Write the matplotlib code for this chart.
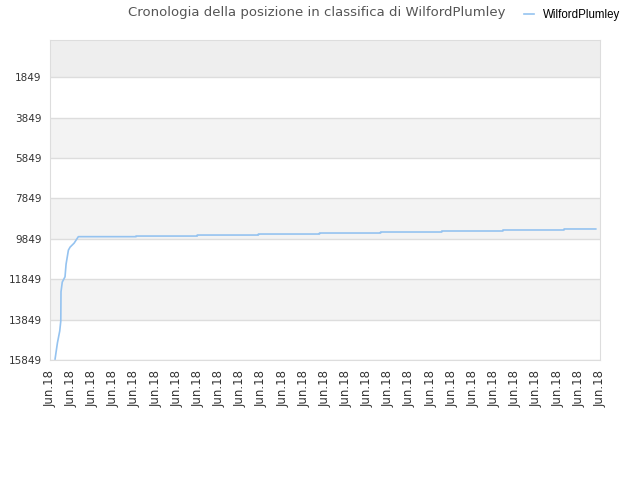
import numpy as np
import matplotlib
matplotlib.use('Agg')
import matplotlib.pyplot as plt

# climb in the first days (x in tick units, rank)
early_x = [0.24, 0.35, 0.46, 0.51, 0.52, 0.58, 0.71, 0.76, 0.87, 0.95, 1.14, 1.34]
early_rank = [15800, 15007, 14414, 13919, 12470, 11990, 11728, 11100, 10407, 10258, 10061, 9740]

# then slow steps
step_x = [1.34, 4.07, 6.96, 9.85, 12.74, 15.63, 18.52, 21.41, 24.30, 25.80]
step_rank = [9740, 9710, 9660, 9610, 9560, 9510, 9460, 9410, 9360]

ytick_vals = [1849, 3849, 5849, 7849, 9849, 11849, 13849, 15849]
xtick_labels = ['Jun.18'] * 27

# build line
sx = np.repeat(step_x, 2)[1:-1]
sy = np.repeat(step_rank, 2)
xs = np.concatenate([early_x, sx])
ys = np.concatenate([early_rank, sy])

fig = plt.figure(figsize=(6.4, 4.8), dpi=100)
ax = fig.add_axes([50 / 640, 1 - 360 / 480, 550 / 640, 320 / 480])

ax.axhspan(0, 1849, color='#eeeeee', lw=0, zorder=0)
for lo in [3849, 7849, 11849]:
    ax.axhspan(lo, lo + 2000, color='#f3f3f3', lw=0, zorder=0)
for v in ytick_vals:
    ax.axhline(v, color='#dddddd', lw=1, zorder=1)

ax.plot(xs, ys, color='#95c3f0', lw=1.2, zorder=3, label='WilfordPlumley')

ax.set_ylim(15849, 0)
ax.set_xlim(0, 26)
ax.set_yticks(ytick_vals)
ax.set_yticklabels([str(v) for v in ytick_vals], fontsize=7.5, color='#333333')
ax.set_xticks(range(27))
ax.set_xticklabels(xtick_labels, rotation=90, fontsize=8.5, color='#333333')
ax.tick_params(length=0, pad=7)
ax.tick_params(axis='y', pad=6)
for s in ax.spines.values():
    s.set_color('#dddddd')

fig.text(0.495, 0.973, 'Cronologia della posizione in classifica di WilfordPlumley',
         ha='center', va='center', fontsize=9.5, color='#555555')
fig.legend(loc='center left', bbox_to_anchor=(0.812, 0.968), frameon=False,
           prop={'family': 'Liberation Sans', 'size': 8.3}, handlelength=0.85,
           handletextpad=0.8, borderaxespad=0)

fig.savefig('out.png')
